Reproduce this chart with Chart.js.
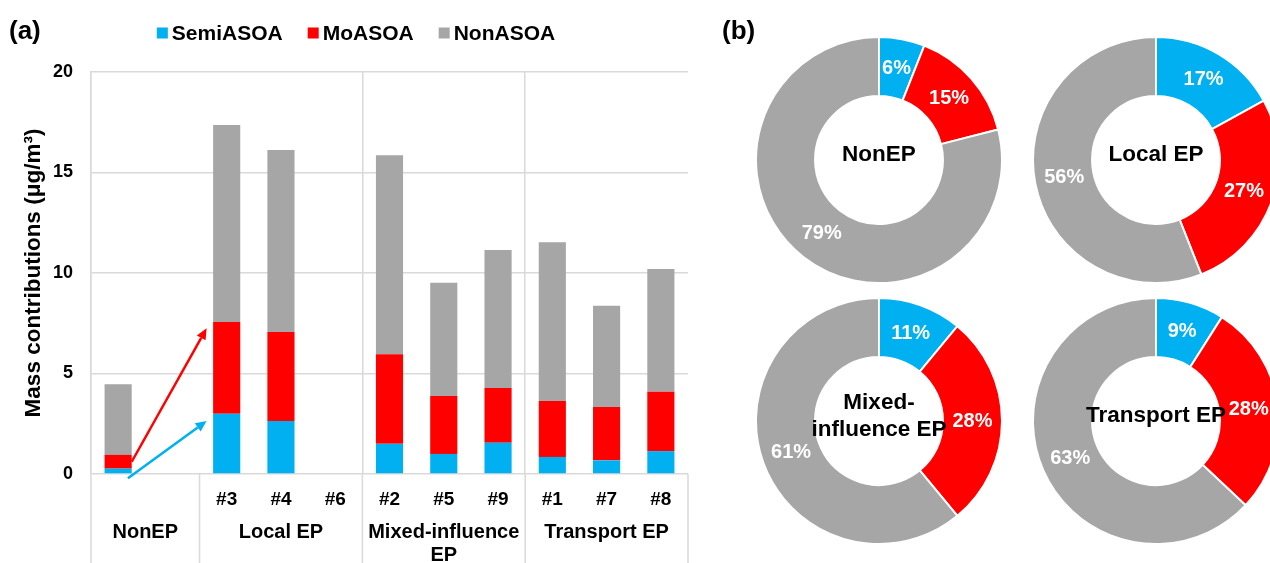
<!DOCTYPE html>
<html><head><meta charset="utf-8">
<script src="https://cdn.jsdelivr.net/npm/chart.js@4.4.1/dist/chart.umd.min.js"></script>
<style>
html,body{margin:0;padding:0;background:#fff;width:1270px;height:563px;overflow:hidden;}
#wrap{position:relative;width:1270px;height:563px;overflow:hidden;background:#fff;}
canvas{position:absolute;}
.panel{position:absolute;font:bold 26px 'Liberation Sans',Arial,sans-serif;color:#000;line-height:26px;white-space:nowrap;}
</style></head><body>
<div id="wrap">
<canvas id="bar" width="700" height="563" style="left:0;top:0;width:700px;height:563px"></canvas>
<canvas id="p0" width="248" height="248" style="left:755px;top:36px;width:248px;height:248px"></canvas>
<canvas id="p1" width="248" height="248" style="left:1032px;top:36px;width:248px;height:248px"></canvas>
<canvas id="p2" width="248" height="248" style="left:755px;top:297px;width:248px;height:248px"></canvas>
<canvas id="p3" width="248" height="248" style="left:1032px;top:297px;width:248px;height:248px"></canvas>
<div class="panel" style="left:9px;top:17px">(a)</div>
<div class="panel" style="left:722px;top:17px">(b)</div>
</div>
<script>
// ---------- data ----------
const seriesNames = ['SemiASOA', 'MoASOA', 'NonASOA'];
const xLabels = ['', '', '#3', '#4', '#6', '#2', '#5', '#9', '#1', '#7', '#8'];
const semiASOA = [0.27, null, 3.00, 2.64, null, 1.50, 1.00, 1.56, 0.85, 0.68, 1.14];
const moASOA   = [0.68, null, 4.56, 4.42, null, 4.46, 2.88, 2.72, 2.78, 2.65, 2.95];
const nonASOA  = [3.51, null, 9.80, 9.06, null, 9.90, 5.64, 6.86, 7.90, 5.04, 6.11];
const yTicks = [0, 5, 10, 15, 20];
const groupNames = [['NonEP'], ['Local EP'], ['Mixed-influence', 'EP'], ['Transport EP']];
const groupStart = [0, 2, 5, 8];
const groupEnd = [1, 4, 7, 10];
// arrow annotations in data units [category index, value]
const arrowFrom = [[0.25, 0.61], [0.18, -0.21]];
const arrowTo = [[1.63, 7.25], [1.63, 2.64]];
const pieTitles = [['NonEP'], ['Local EP'], ['Mixed-', 'influence EP'], ['Transport EP']];
const pieSemi = [6, 17, 11, 9];
const pieMo = [15, 27, 28, 28];
const pieNon = [79, 56, 61, 63];

// ---------- styles ----------
const FONT = "'Liberation Sans', Arial, sans-serif";
const COLORS = ['#00B0F0', '#FF0000', '#A6A6A6'];
const GRID = '#d9d9d9';
Chart.defaults.font.family = FONT;
Chart.defaults.color = '#000';

const barLegend = {
  id: 'barLegend',
  afterDraw(chart) {
    const ctx = chart.ctx;
    ctx.save();
    ctx.font = 'bold 21px ' + FONT;
    ctx.textBaseline = 'middle';
    ctx.textAlign = 'left';
    const box = 11, gapT = 4, gapI = 25, cy = 33;
    const items = chart.data.datasets.map(d => ({ t: d.label, c: d.backgroundColor, w: ctx.measureText(d.label).width }));
    const total = items.reduce((s, it) => s + box + gapT + it.w, 0) + gapI * (items.length - 1);
    let x = chart.width / 2 + 6 - total / 2;
    items.forEach(it => {
      ctx.fillStyle = it.c;
      ctx.fillRect(x, cy - box / 2, box, box);
      x += box + gapT;
      ctx.fillStyle = '#000';
      ctx.fillText(it.t, x, cy + 1);
      x += it.w + gapI;
    });
    ctx.restore();
  }
};

const groupAxis = {
  id: 'groupAxis',
  afterDraw(chart) {
    const xs = chart.scales.x, area = chart.chartArea, ctx = chart.ctx;
    ctx.save();
    ctx.strokeStyle = GRID;
    ctx.lineWidth = 1.5;
    const bounds = [groupStart[0]].concat(groupEnd.map(e => e + 1));
    bounds.forEach(b => {
      const px = xs.getPixelForValue(b - 0.5);
      ctx.beginPath();
      ctx.moveTo(px, area.bottom);
      ctx.lineTo(px, chart.height);
      ctx.stroke();
    });
    ctx.font = 'bold 20px ' + FONT;
    ctx.fillStyle = '#000';
    ctx.textAlign = 'center';
    ctx.textBaseline = 'middle';
    groupNames.forEach((lines, i) => {
      const px = xs.getPixelForValue((groupStart[i] + groupEnd[i]) / 2);
      lines.forEach((ln, j) => ctx.fillText(ln, px, area.bottom + 58 + j * 23));
    });
    ctx.restore();
  }
};

function drawArrow(ctx, x1, y1, x2, y2, color) {
  const ang = Math.atan2(y2 - y1, x2 - x1);
  const hl = 11, hw = 5;
  const bx = x2 - hl * Math.cos(ang), by = y2 - hl * Math.sin(ang);
  ctx.strokeStyle = color; ctx.fillStyle = color; ctx.lineWidth = 2.5;
  ctx.beginPath(); ctx.moveTo(x1, y1); ctx.lineTo(bx, by); ctx.stroke();
  ctx.beginPath();
  ctx.moveTo(x2, y2);
  ctx.lineTo(bx + hw * Math.sin(ang), by - hw * Math.cos(ang));
  ctx.lineTo(bx - hw * Math.sin(ang), by + hw * Math.cos(ang));
  ctx.closePath(); ctx.fill();
}
const arrows = {
  id: 'arrows',
  afterDatasetsDraw(chart) {
    const xs = chart.scales.x, ys = chart.scales.y, ctx = chart.ctx;
    ctx.save();
    const arrowColors = [COLORS[1], COLORS[0]];
    arrowFrom.forEach((f, i) => {
      const t = arrowTo[i];
      drawArrow(ctx, xs.getPixelForValue(f[0]), ys.getPixelForValue(f[1]),
        xs.getPixelForValue(t[0]), ys.getPixelForValue(t[1]), arrowColors[i]);
    });
    ctx.restore();
  }
};

new Chart(document.getElementById('bar'), {
  type: 'bar',
  data: {
    labels: xLabels,
    datasets: [
      { label: seriesNames[0], data: semiASOA, backgroundColor: COLORS[0] },
      { label: seriesNames[1], data: moASOA, backgroundColor: COLORS[1] },
      { label: seriesNames[2], data: nonASOA, backgroundColor: COLORS[2] }
    ]
  },
  options: {
    responsive: false,
    animation: false,
    datasets: { bar: { barPercentage: 0.5, categoryPercentage: 1.0 } },
    layout: { padding: { top: 72, right: 12, left: 0, bottom: 0 } },
    plugins: { legend: { display: false }, tooltip: { enabled: false } },
    scales: {
      x: {
        stacked: true,
        offset: true,
        grid: {
          offset: true, drawTicks: false, lineWidth: 1.5,
          color: c => ([0, 5, 8, 11].includes(c.index) ? GRID : 'rgba(0,0,0,0)')
        },
        border: { display: false },
        ticks: { font: { size: 19, weight: 'bold' }, color: '#000', padding: 14, autoSkip: false, maxRotation: 0 },
        afterFit: s => { s.height = 89; }
      },
      y: {
        stacked: true,
        min: 0, max: 20,
        afterBuildTicks: s => { s.ticks = yTicks.map(v => ({ value: v })); },
        ticks: { font: { size: 18, weight: 'bold' }, color: '#000', padding: 18 },
        grid: { drawTicks: false, color: GRID, lineWidth: 1.5 },
        border: { display: true, color: GRID, width: 1.5 },
        title: { display: true, text: 'Mass contributions (μg/m³)', font: { size: 22.5, weight: 'bold' }, color: '#000', padding: { top: 20, bottom: 0 } },
        afterFit: s => { s.width = 91; }
      }
    }
  },
  plugins: [barLegend, groupAxis, arrows]
});

const pieText = {
  id: 'pieText',
  afterDatasetsDraw(chart, args, opts) {
    const ctx = chart.ctx;
    const meta = chart.getDatasetMeta(0);
    const data = chart.data.datasets[0].data;
    ctx.save();
    ctx.textAlign = 'center';
    ctx.textBaseline = 'middle';
    ctx.font = 'bold 20px ' + FONT;
    ctx.fillStyle = '#fff';
    meta.data.forEach((arc, i) => {
      const p = arc.tooltipPosition();
      ctx.fillText(data[i] + '%', p.x, p.y);
    });
    const a = chart.chartArea;
    const cx = (a.left + a.right) / 2, cy = (a.top + a.bottom) / 2 - 5;
    const lines = opts.lines || [];
    const lh = 27;
    ctx.font = 'bold 22.5px ' + FONT;
    ctx.fillStyle = '#000';
    lines.forEach((ln, j) => ctx.fillText(ln, cx, cy + (j - (lines.length - 1) / 2) * lh));
    ctx.restore();
  }
};

for (let i = 0; i < 4; i++) {
  new Chart(document.getElementById('p' + i), {
    type: 'doughnut',
    data: {
      labels: seriesNames,
      datasets: [{
        data: [pieSemi[i], pieMo[i], pieNon[i]],
        backgroundColor: COLORS,
        borderColor: '#fff',
        borderWidth: 2
      }]
    },
    options: {
      responsive: false,
      animation: false,
      cutout: '52%',
      layout: { padding: 0 },
      plugins: { legend: { display: false }, tooltip: { enabled: false }, pieText: { lines: pieTitles[i] } }
    },
    plugins: [pieText]
  });
}
</script>
</body></html>
